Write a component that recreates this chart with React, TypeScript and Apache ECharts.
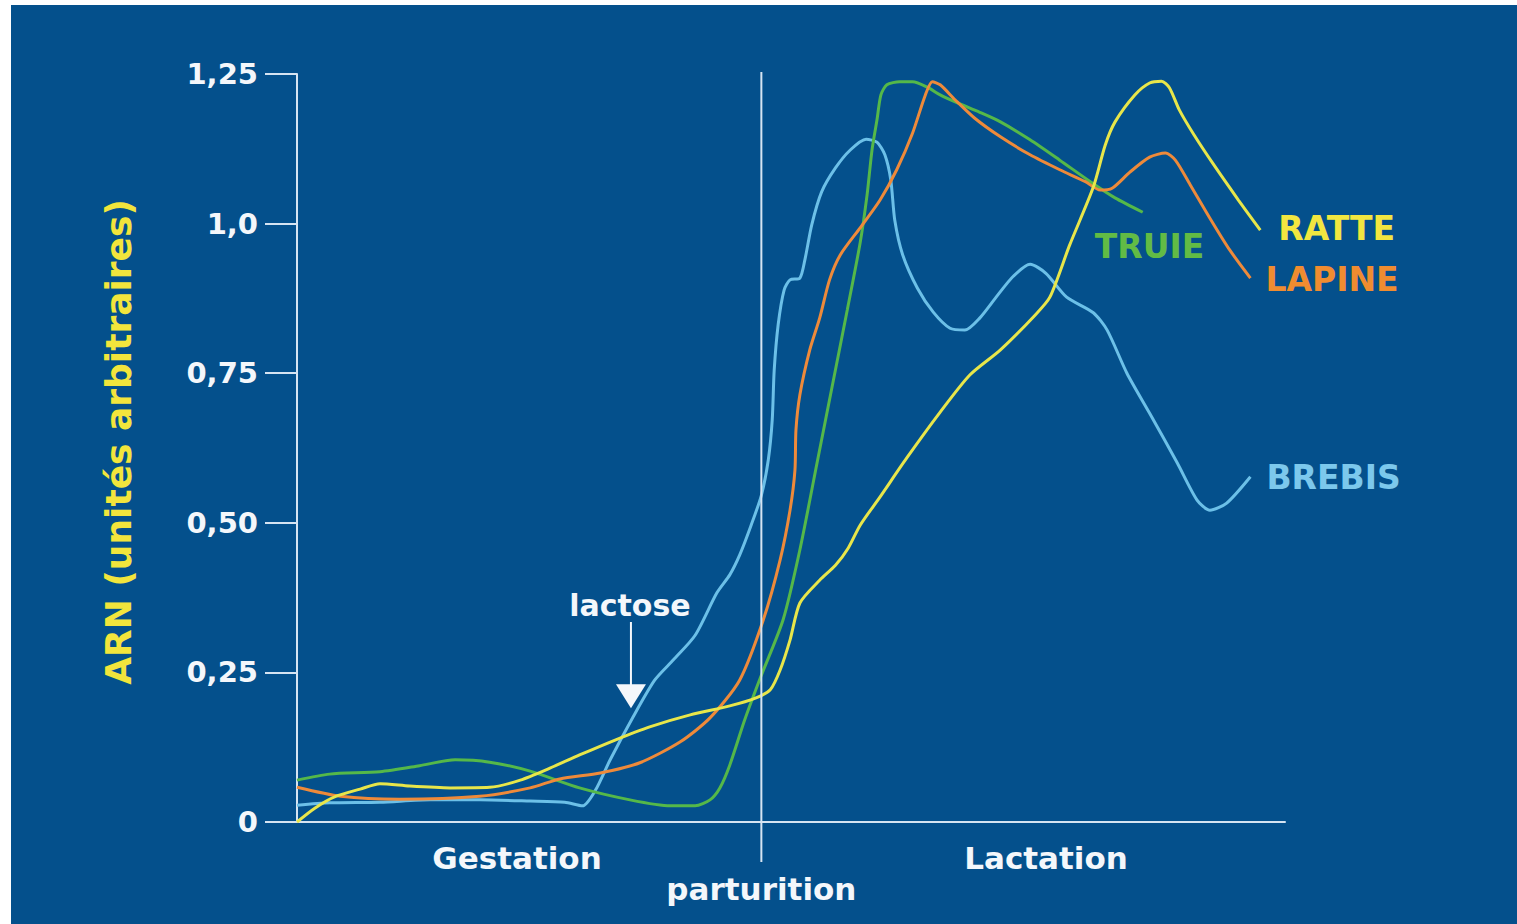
import React, { useEffect, useRef } from "react";
import * as echarts from "echarts";

// ---- Data (x: arbitrary time units 0..100, y: ARN arbitrary units) ----
const Y_TICKS = [0, 0.25, 0.5, 0.75, 1.0, 1.25];
const Y_TICK_LABELS = ["0", "0,25", "0,50", "0,75", "1,0", "1,25"];
const PARTURITION = 47.0;
const LACTOSE_AT = [33.8, 0.19];

const BREBIS_X = [0, 3.3, 8.4, 13.5, 18.5, 23.6, 27.1, 28.9, 30.2, 31.7, 34.0, 36.2, 38.1, 40.3, 42.5, 43.8, 44.8, 45.9, 47.0, 47.7, 48.1, 48.3, 48.7, 49.3, 49.9, 50.9, 51.4, 52.1, 53.1, 54.5, 56.0, 57.6, 58.7, 59.5, 60.1, 60.5, 61.3, 62.8, 64.4, 66.1, 67.6, 69.1, 70.9, 72.5, 74.2, 75.8, 77.9, 80.6, 82.0, 84.0, 86.3, 89.1, 91.1, 92.4, 94.1, 96.5];
const BREBIS_Y = [0.028, 0.032, 0.033, 0.037, 0.037, 0.035, 0.033, 0.027, 0.053, 0.104, 0.175, 0.237, 0.271, 0.312, 0.383, 0.413, 0.446, 0.493, 0.546, 0.605, 0.672, 0.755, 0.831, 0.889, 0.906, 0.909, 0.939, 0.998, 1.053, 1.093, 1.123, 1.141, 1.136, 1.115, 1.073, 1.006, 0.948, 0.892, 0.852, 0.825, 0.822, 0.842, 0.880, 0.912, 0.932, 0.917, 0.877, 0.851, 0.822, 0.75, 0.683, 0.6, 0.538, 0.521, 0.533, 0.577];

const TRUIE_X = [0, 3.3, 8.4, 12.4, 16.0, 19.5, 23.6, 28.6, 33.7, 37.8, 40.3, 41.8, 42.8, 43.8, 45.3, 46.9, 49.2, 50.9, 52.6, 54.3, 55.7, 57.0, 57.7, 58.2, 58.7, 59.1, 59.7, 61.0, 62.3, 63.8, 65.1, 66.8, 69.1, 71.2, 74.2, 77.2, 80.3, 82.8, 85.6];
const TRUIE_Y = [0.07, 0.08, 0.084, 0.094, 0.104, 0.1, 0.085, 0.057, 0.037, 0.027, 0.027, 0.037, 0.057, 0.095, 0.17, 0.241, 0.338, 0.455, 0.597, 0.739, 0.856, 0.968, 1.048, 1.123, 1.173, 1.215, 1.232, 1.237, 1.237, 1.228, 1.215, 1.202, 1.186, 1.17, 1.14, 1.106, 1.07, 1.043, 1.019];

const LAPINE_X = [0, 4.4, 10.4, 18.5, 23.6, 26.6, 30.7, 34.7, 38.8, 41.8, 44.8, 47.2, 48.9, 49.9, 50.4, 50.5, 50.9, 51.9, 52.9, 53.9, 55.0, 57.0, 59.0, 60.7, 62.3, 63.6, 64.3, 65.1, 66.6, 68.6, 71.2, 74.2, 77.2, 79.8, 81.3, 82.5, 84.3, 86.3, 87.9, 88.9, 90.4, 92.4, 94.4, 96.5];
const LAPINE_Y = [0.058, 0.043, 0.038, 0.043, 0.057, 0.072, 0.082, 0.099, 0.134, 0.174, 0.237, 0.338, 0.438, 0.521, 0.588, 0.655, 0.714, 0.789, 0.842, 0.906, 0.948, 0.993, 1.039, 1.09, 1.151, 1.215, 1.237, 1.232, 1.207, 1.176, 1.145, 1.115, 1.09, 1.07, 1.056, 1.059, 1.086, 1.111, 1.118, 1.106, 1.065, 1.009, 0.956, 0.909];

const RATTE_X = [0, 1.8, 3.8, 6.4, 8.4, 11.4, 15.5, 19.5, 22.6, 25.6, 28.6, 32.2, 35.7, 39.8, 43.8, 46.4, 47.9, 48.9, 49.9, 50.9, 52.9, 54.5, 55.8, 57.0, 59.0, 61.7, 65.1, 68.1, 71.2, 74.7, 76.2, 78.2, 80.6, 81.8, 82.8, 84.8, 86.3, 87.5, 88.3, 89.3, 90.8, 92.8, 95.3, 97.5];
const RATTE_Y = [0, 0.023, 0.042, 0.055, 0.064, 0.06, 0.057, 0.058, 0.07, 0.09, 0.112, 0.137, 0.159, 0.179, 0.194, 0.207, 0.221, 0.254, 0.304, 0.366, 0.404, 0.429, 0.458, 0.496, 0.543, 0.608, 0.685, 0.747, 0.789, 0.847, 0.877, 0.964, 1.061, 1.131, 1.17, 1.215, 1.235, 1.238, 1.227, 1.19, 1.148, 1.098, 1.039, 0.989];

const BG = "#04508c";
const AXIS = "#d6e4f2";
const WHITE = "#f4f7fb";
const FONT = "DejaVu Sans";

const zip = (xs: number[], ys: number[]) => xs.map((x, i) => [x, ys[i]]);

export default function App() {
  const ref = useRef<HTMLDivElement>(null);
  useEffect(() => {
    if (!ref.current) return;
    const chart = echarts.init(ref.current, null, { renderer: "svg" });

    const mkSeries = (name: string, xs: number[], ys: number[], color: string, labelColor: string, offset: number[]) => ({
      name,
      type: "line",
      data: zip(xs, ys),
      showSymbol: false,
      smooth: 0.25,
      lineStyle: { color, width: 3 },
      itemStyle: { color },
      endLabel: {
        show: true,
        formatter: name,
        color: labelColor,
        fontFamily: FONT,
        fontWeight: "bold",
        fontSize: 33,
        distance: 5,
        offset,
      },
      z: 3,
    });

    chart.setOption({
      animation: false,
      backgroundColor: "#ffffff",
      grid: { left: 297, top: 74, width: 988, height: 748, containLabel: false },
      xAxis: {
        type: "value",
        min: 0,
        max: 100,
        axisLine: { show: true, lineStyle: { color: AXIS, width: 2 } },
        axisTick: { show: false },
        axisLabel: { show: false },
        splitLine: { show: false },
      },
      yAxis: {
        type: "value",
        min: 0,
        max: 1.25,
        interval: 0.25,
        axisLine: { show: true, lineStyle: { color: AXIS, width: 2 } },
        axisTick: { show: true, length: 32, lineStyle: { color: AXIS, width: 2 } },
        axisLabel: {
          margin: 39,
          color: WHITE,
          fontFamily: FONT,
          fontWeight: "bold",
          fontSize: 29,
          formatter: (v: number) => {
            const i = Y_TICKS.findIndex((t) => Math.abs(t - v) < 1e-6);
            return i >= 0 ? Y_TICK_LABELS[i] : "";
          },
        },
        splitLine: { show: false },
      },
      series: [
        mkSeries("BREBIS", BREBIS_X, BREBIS_Y, "#6cc0e8", "#7cc8ec", [11, 1]),
        mkSeries("TRUIE", TRUIE_X, TRUIE_Y, "#55b849", "#62bb45", [-53, 34]),
        mkSeries("LAPINE", LAPINE_X, LAPINE_Y, "#ee8a3a", "#f08c30", [10, 1]),
        mkSeries("RATTE", RATTE_X, RATTE_Y, "#e8e64a", "#f2e640", [13, -2]),
      ],
    });

    const px = chart.convertToPixel({ xAxisIndex: 0 }, PARTURITION) as number;
    const arrowTip = chart.convertToPixel({ gridIndex: 0 }, LACTOSE_AT) as number[];
    const ax = arrowTip[0];
    const ay = arrowTip[1];

    const txt = (text: string, x: number, y: number, size: number, color = WHITE) => ({
      type: "text",
      x,
      y,
      z: 10,
      style: {
        text,
        fill: color,
        font: `bold ${size}px "${FONT}"`,
        align: "center",
        verticalAlign: "middle",
      },
    });

    chart.setOption({
      graphic: [
        { type: "rect", z: -10, silent: true, shape: { x: 11, y: 5, width: 1506, height: 919 }, style: { fill: BG } },
        { type: "line", z: 5, shape: { x1: px, y1: 72, x2: px, y2: 862 }, style: { stroke: AXIS, lineWidth: 2 } },
        txt("Gestation", 517, 858, 31),
        txt("Lactation", 1046, 858, 31),
        txt("parturition", px, 889, 31),
        txt("lactose", ax - 1, 605, 30),
        { type: "line", z: 5, shape: { x1: ax, y1: 622, x2: ax, y2: ay - 22 }, style: { stroke: WHITE, lineWidth: 2 } },
        { type: "polygon", z: 5, shape: { points: [[ax - 15, ay - 24], [ax + 15, ay - 24], [ax, ay]] }, style: { fill: WHITE } },
        {
          type: "text",
          x: 118,
          y: 442,
          rotation: Math.PI / 2,
          z: 10,
          style: {
            text: "ARN (unités arbitraires)",
            fill: "#f2e53c",
            font: `bold 36px "${FONT}"`,
            align: "center",
            verticalAlign: "middle",
          },
        },
      ],
    });

    return () => chart.dispose();
  }, []);

  return (
    <div
      ref={ref}
      style={{ position: "fixed", left: 0, top: 0, width: 1517, height: 924 }}
    />
  );
}
